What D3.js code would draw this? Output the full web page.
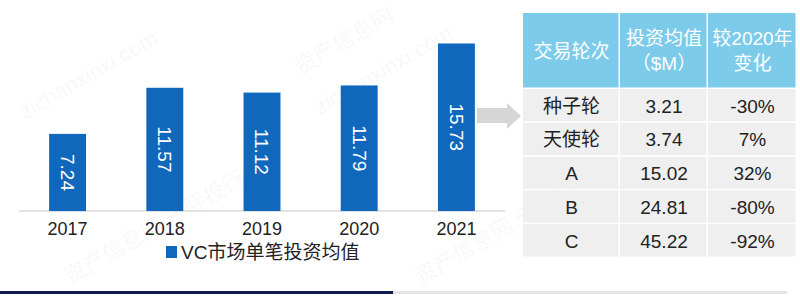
<!DOCTYPE html>
<html>
<head>
<meta charset="utf-8">
<script src="https://cdn.jsdelivr.net/npm/d3@7"></script>
<style>
  body { margin: 0; background: #fff; }
  svg text { font-family: "Liberation Sans", "Noto Sans CJK SC", sans-serif; }
</style>
</head>
<body>
<svg id="chart" width="800" height="300"></svg>
<script>
// Bar chart data
const years     = ['2017', '2018', '2019', '2020', '2021'];
const avgDeal   = [7.24, 11.57, 11.12, 11.79, 15.73];
const seriesName = 'VC市场单笔投资均值';

// Table data
const headers    = [['交易轮次'], ['投资均值', '（$M）'], ['较2020年', '变化']];
const rounds     = ['种子轮', '天使轮', 'A', 'B', 'C'];
const roundAvg   = ['3.21', '3.74', '15.02', '24.81', '45.22'];
const roundDelta = ['-30%', '7%', '32%', '-80%', '-92%'];

const svg = d3.select('#chart');
const barColor = '#1068bd';

// faint watermarks (kept inside the frame)
const marks = [
  {x: 25,  y: 120, t: 'zichanxinxi.com'},
  {x: 300, y: 75,  t: '资产信息网'},
  {x: 320, y: 115, t: 'zichanxinxi.com'},
  {x: 70,  y: 285, t: '资产信息网 千际投行'},
  {x: 420, y: 285, t: '资产信息网 千际投行'}
];
svg.append('g').selectAll('text').data(marks).enter().append('text')
   .attr('transform', d => `translate(${d.x},${d.y}) rotate(-30)`)
   .attr('font-size', 22).attr('fill', '#000').attr('fill-opacity', 0.045)
   .text(d => d.t);

// scales
const x = d3.scaleBand().domain(years).range([19, 505]).paddingInner(0.62).paddingOuter(0.31);
const y = d3.scaleLinear().domain([0, 18]).range([211, 211 - 18 * 10.65]);

// baseline
svg.append('line').attr('x1', 19).attr('x2', 505).attr('y1', y(0)).attr('y2', y(0))
   .attr('stroke', '#d9d9d9').attr('stroke-width', 1.5);

// bars
svg.append('g').selectAll('rect').data(avgDeal).enter().append('rect')
   .attr('x', (d, i) => x(years[i])).attr('width', x.bandwidth())
   .attr('y', d => y(d)).attr('height', d => y(0) - y(d))
   .attr('fill', barColor);

// rotated value labels
svg.append('g').selectAll('text').data(avgDeal).enter().append('text')
   .attr('transform', (d, i) => `translate(${x(years[i]) + x.bandwidth() / 2},${(y(d) + y(0)) / 2}) rotate(90)`)
   .attr('text-anchor', 'middle').attr('dy', '0.35em')
   .attr('font-size', 19).attr('fill', '#fff')
   .text(d => d.toFixed(2));

// x axis labels
const xAxis = svg.append('g').attr('transform', `translate(0,${y(0)})`)
   .call(d3.axisBottom(x).tickSize(0).tickPadding(11));
xAxis.select('.domain').remove();
xAxis.selectAll('text').attr('font-size', 18).attr('fill', '#222')
     .style('font-family', '"Liberation Sans", sans-serif');

// legend
svg.append('rect').attr('x', 166).attr('y', 246).attr('width', 11).attr('height', 12).attr('fill', barColor);
svg.append('text').attr('x', 181).attr('y', 252).attr('dy', '0.35em')
   .attr('font-size', 19).attr('fill', '#222').text(seriesName);

// bottom rules
svg.append('rect').attr('x', 0).attr('y', 291).attr('width', 393).attr('height', 3).attr('fill', '#0c1a4f');
svg.append('rect').attr('x', 393).attr('y', 291).attr('width', 394).attr('height', 3).attr('fill', '#e4e4e4');

// arrow
svg.append('path')
   .attr('d', 'M477,108 L507,108 L507,103 L521,116 L507,129 L507,123 L477,123 Z')
   .attr('fill', '#d6d6d6');

// table
const colEdges = [523, 620, 708, 797];
const colX = d3.scaleOrdinal().domain([0, 1, 2]).range(colEdges.slice(0, 3));
const colW = i => colEdges[i + 1] - colEdges[i];
const rowY = d3.scaleBand().domain(rounds).range([89, 258]);
const headTop = 13, headBottom = 89;

const tbl = svg.append('g');
// header cells
tbl.selectAll('rect.head').data(headers).enter().append('rect').attr('class', 'head')
   .attr('x', (d, i) => colX(i)).attr('y', headTop)
   .attr('width', (d, i) => colW(i) - 1.5).attr('height', headBottom - headTop - 1.5)
   .attr('fill', '#7ccbea');
tbl.selectAll('text.head').data(headers).enter().append('text').attr('class', 'head')
   .attr('text-anchor', 'middle').attr('font-size', 19).attr('fill', '#fff')
   .each(function(d, i) {
     const cx = colX(i) + colW(i) / 2;
     const cy = (headTop + headBottom) / 2;
     const lh = 25;
     d.forEach((line, k) => {
       d3.select(this).append('tspan').attr('x', cx)
         .attr('y', cy + (k - (d.length - 1) / 2) * lh).attr('dy', '0.35em').text(line);
     });
   });

// body rows
const rows = rounds.map((r, i) => [r, roundAvg[i], roundDelta[i]]);
rows.forEach((row, ri) => {
  const g = tbl.append('g');
  g.selectAll('rect').data(row).enter().append('rect')
   .attr('x', (d, i) => colX(i)).attr('y', rowY(rounds[ri]))
   .attr('width', (d, i) => colW(i) - 1.5).attr('height', rowY.bandwidth() - 1.5)
   .attr('fill', '#efefef');
  g.selectAll('text').data(row).enter().append('text')
   .attr('x', (d, i) => colX(i) + colW(i) / 2)
   .attr('y', rowY(rounds[ri]) + rowY.bandwidth() / 2)
   .attr('dy', '0.35em').attr('text-anchor', 'middle')
   .attr('font-size', 19).attr('fill', '#222')
   .text(d => d);
});
</script>
</body>
</html>
